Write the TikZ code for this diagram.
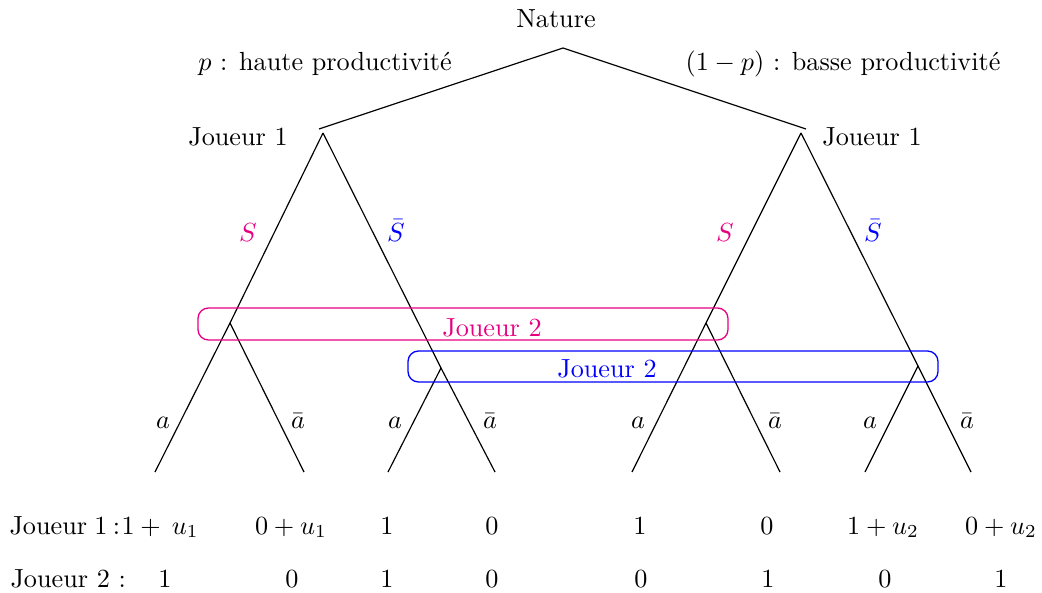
\documentclass[tikz,border=0pt]{standalone}
\usepackage{fontspec}
\definecolor{pinkc}{RGB}{232,0,130}
\definecolor{bluec}{RGB}{0,0,255}
\begin{document}
\begin{tikzpicture}[x=0.3817pt,y=-0.3817pt,
  edge/.style={line width=0.45pt},
  lbl/.style={inner sep=0pt,anchor=base},
  infoset/.style={rounded corners=4pt,line width=0.5pt}]
\useasboundingbox (0,0) rectangle (1042,592);
% tree coordinates
\coordinate (N) at (563,48);
\coordinate (L1e) at (319,129);
\coordinate (L1) at (323,133);
\coordinate (R1e) at (806,129);
\coordinate (R1) at (801,133);
\coordinate (LS) at (230,323);
\coordinate (LSb) at (441,368);
\coordinate (RS) at (706,323);
\coordinate (RSb) at (918,366);
\coordinate (t1) at (155,472);
\coordinate (t2) at (304,472);
\coordinate (t3) at (388,472);
\coordinate (t4) at (495,472);
\coordinate (t5) at (632,472);
\coordinate (t6) at (780,472);
\coordinate (t7) at (865,472);
\coordinate (t8) at (971,472);
% edges
\draw[edge] (N) -- (L1e);
\draw[edge] (N) -- (R1e);
\draw[edge] (L1) -- (LS);
\draw[edge] (L1) -- (LSb);
\draw[edge] (R1) -- (RS);
\draw[edge] (R1) -- (RSb);
\draw[edge] (LS) -- (t1);
\draw[edge] (LS) -- (t2);
\draw[edge] (LSb) -- (t3);
\draw[edge] (LSb) -- (t4);
\draw[edge] (RS) -- (t5);
\draw[edge] (RS) -- (t6);
\draw[edge] (RSb) -- (t7);
\draw[edge] (RSb) -- (t8);
% information sets
\draw[infoset,pinkc] (198,308) rectangle (728,340);
\draw[infoset,bluec] (408,351) rectangle (938,382);
% labels
\node[lbl] (nat) at (556,28) {Nature};
\node[lbl] (pl) at (325,71) {$p$ : haute productivité};
\node[lbl] (pr) at (843,71) {$(1-p)$ : basse productivité};
\node[lbl] (j1l) at (238,145) {Joueur 1};
\node[lbl] (j1r) at (872,145) {Joueur 1};
\node[lbl,pinkc] (sl) at (248,241) {$S$};
\node[lbl,bluec] (sbl) at (396,241) {$\bar S$};
\node[lbl,pinkc] (sr) at (725,241) {$S$};
\node[lbl,bluec] (sbr) at (873,241) {$\bar S$};
\node[lbl,pinkc] (j2p) at (492,336) {Joueur 2};
\node[lbl,bluec] (j2b) at (607,377) {Joueur 2};
\node[lbl] (a1) at (163,428) {$a$};
\node[lbl] (b1) at (298,428) {$\bar a$};
\node[lbl] (a2) at (395,428) {$a$};
\node[lbl] (b2) at (490,428) {$\bar a$};
\node[lbl] (a3) at (638,428) {$a$};
\node[lbl] (b3) at (775,428) {$\bar a$};
\node[lbl] (a4) at (870,428) {$a$};
\node[lbl] (b4) at (967,428) {$\bar a$};
% payoffs
\node[lbl,anchor=base west] (r1) at (9,534) {Joueur\hspace{2.8pt}1\hspace{2pt}:};
\node[lbl,anchor=base west] (p11) at (121,534) {$1+\hspace{2pt}u_1$};
\node[lbl] (p12) at (291,534) {$0+u_1$};
\node[lbl] (p13) at (387,534) {$1$};
\node[lbl] (p14) at (492,534) {$0$};
\node[lbl] (p15) at (640,534) {$1$};
\node[lbl] (p16) at (767,534) {$0$};
\node[lbl] (p17) at (883,534) {$1+u_2$};
\node[lbl] (p18) at (1001,534) {$0+u_2$};
\node[lbl,anchor=base west] (r2) at (10,587) {Joueur 2 :};
\node[lbl] (p21) at (165,587) {$1$};
\node[lbl] (p22) at (292,587) {$0$};
\node[lbl] (p23) at (387,587) {$1$};
\node[lbl] (p24) at (492,587) {$0$};
\node[lbl] (p25) at (641,587) {$0$};
\node[lbl] (p26) at (768,587) {$1$};
\node[lbl] (p27) at (885,587) {$0$};
\node[lbl] (p28) at (1001,587) {$1$};
\end{tikzpicture}
\end{document}
